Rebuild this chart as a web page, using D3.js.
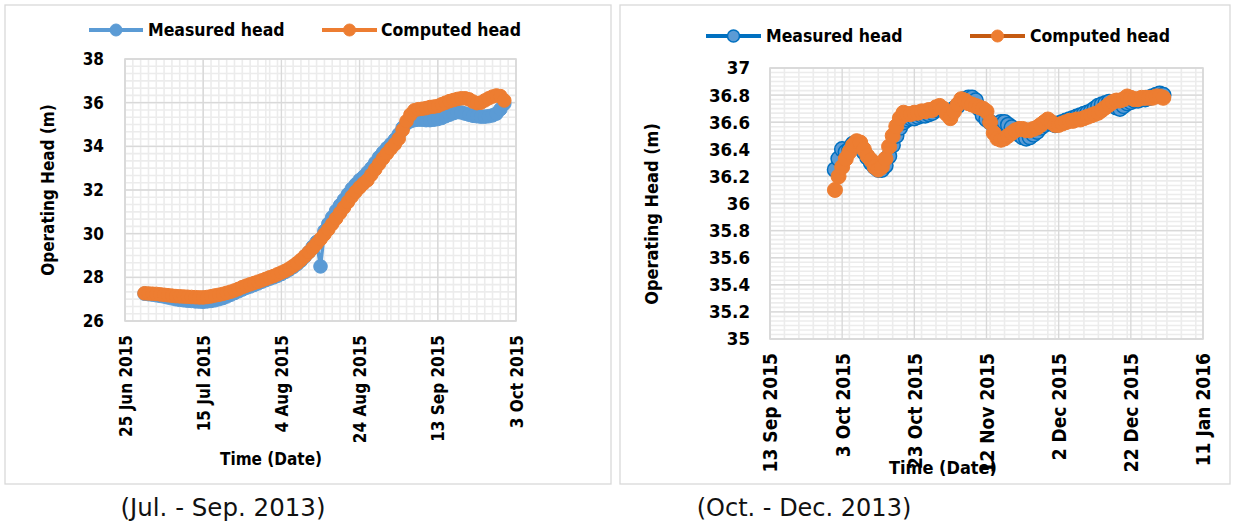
<!DOCTYPE html>
<html><head><meta charset="utf-8">
<script src="https://cdn.jsdelivr.net/npm/d3@7"></script>
<style>body{margin:0;background:#fff}svg{display:block}</style>
</head><body>
<svg id="c" width="1233" height="524"></svg>
<script>
// ---------- DATA ----------
const seriesNames = ["Measured head", "Computed head"];
const captions = ["(Jul. - Sep. 2013)", "(Oct. - Dec. 2013)"];
const axisTitles = ["Operating Head (m)", "Time (Date)"];

// Left chart: daily values starting 30 Jun 2015
const leftStart = "2015-06-30";
const leftMeasured = [
  27.25, 27.23, 27.21, 27.18, 27.15, 27.12, 27.08, 27.04, 27.0, 26.97, 26.95, 26.93, 26.92, 26.9, 26.89, 26.88,
  26.9, 26.92, 26.95, 27.0, 27.05, 27.12, 27.2,
  27.28, 27.36, 27.44, 27.52, 27.58, 27.65, 27.72,
  27.8, 27.87, 27.94, 28.0, 28.07, 28.15,
  28.25, 28.35, 28.47, 28.6, 28.76,
  28.95, 29.15, 29.4, 29.62, 28.5,
  30.12, 30.45, 30.75, 31.05, 31.3,
  31.55, 31.8, 32.05, 32.25, 32.45,
  32.6, 32.8, 33.0, 33.25, 33.5,
  33.72, 33.92, 34.1, 34.3, 34.55,
  34.85, 35.05, 35.15, 35.2, 35.22,
  35.22, 35.2, 35.2, 35.22, 35.25,
  35.3, 35.38, 35.45, 35.52, 35.57,
  35.55, 35.5, 35.45, 35.4, 35.38,
  35.36, 35.36, 35.38, 35.42, 35.5,
  35.7, 35.95
];
const leftComputed = [
  27.27, 27.26, 27.25, 27.24, 27.22, 27.2, 27.18, 27.16, 27.14, 27.13, 27.12, 27.11, 27.1, 27.09, 27.08, 27.08,
  27.1, 27.13, 27.17, 27.2, 27.24, 27.29, 27.34,
  27.4, 27.47, 27.55, 27.62, 27.68, 27.74, 27.8,
  27.86, 27.93, 28.0, 28.06, 28.14, 28.22,
  28.3, 28.4, 28.52, 28.65, 28.8,
  28.97, 29.15, 29.34, 29.54, 29.75,
  29.97, 30.2, 30.45, 30.7, 30.95,
  31.2, 31.45, 31.7, 31.92, 32.12,
  32.3, 32.45, 32.7, 32.95, 33.2,
  33.45, 33.68, 33.9, 34.1, 34.35,
  34.75, 35.15, 35.45, 35.65, 35.7,
  35.72, 35.75, 35.8, 35.82, 35.85,
  35.93, 36.0, 36.07, 36.12, 36.17,
  36.2, 36.2, 36.15, 36.05, 35.98,
  36.0, 36.1, 36.2, 36.28, 36.33,
  36.3, 36.1
];
const leftXTicks = ["2015-06-25", "2015-07-15", "2015-08-04", "2015-08-24", "2015-09-13", "2015-10-03"];
const leftYTicks = [26, 28, 30, 32, 34, 36, 38];

// Right chart: daily values starting 1 Oct 2015
const rightStart = "2015-10-01";
const rightMeasured = [
  36.25, 36.33, 36.4, 36.38, 36.4, 36.44, 36.45, 36.42, 36.38, 36.34,
  36.3, 36.27, 36.25, 36.25, 36.28, 36.35, 36.43, 36.5, 36.56, 36.6,
  36.62, 36.63, 36.63, 36.64, 36.65, 36.65, 36.66, 36.67, 36.69, 36.7,
  36.69, 36.68, 36.68, 36.7, 36.72, 36.75, 36.77, 36.78, 36.78, 36.76,
  36.7, 36.65, 36.62, 36.6, 36.58, 36.58, 36.6, 36.6, 36.58, 36.56,
  36.53, 36.51, 36.49, 36.48, 36.49, 36.51, 36.53, 36.56, 36.58, 36.6,
  36.59, 36.58, 36.59, 36.6, 36.61, 36.62, 36.63, 36.64, 36.65, 36.66,
  36.67, 36.68, 36.7, 36.72, 36.73, 36.74, 36.75, 36.74, 36.71, 36.7,
  36.72, 36.74, 36.75, 36.76, 36.76, 36.77, 36.77, 36.78, 36.79, 36.8,
  36.81, 36.8
];
const rightComputed = [
  36.10, 36.2, 36.27, 36.33, 36.38, 36.43, 36.46, 36.45, 36.4, 36.35,
  36.32, 36.27, 36.25, 36.27, 36.33, 36.42, 36.5, 36.57, 36.63, 36.67,
  36.66, 36.66, 36.67, 36.67, 36.68, 36.68, 36.69, 36.69, 36.71, 36.72,
  36.7, 36.66, 36.63, 36.68, 36.73, 36.77, 36.76, 36.74, 36.73, 36.72,
  36.71, 36.7, 36.68, 36.6, 36.52, 36.48, 36.47, 36.48, 36.5, 36.52,
  36.54, 36.55, 36.55, 36.54, 36.54, 36.55, 36.56, 36.58, 36.6, 36.62,
  36.6, 36.58, 36.58, 36.59, 36.6, 36.61, 36.61, 36.62, 36.62, 36.63,
  36.64, 36.65, 36.66, 36.67, 36.69, 36.71, 36.73, 36.75, 36.76, 36.76,
  36.77, 36.79, 36.78, 36.77, 36.77, 36.78, 36.78, 36.78, 36.78, 36.79,
  36.79, 36.78
];
const rightXTicks = ["2015-09-13", "2015-10-03", "2015-10-23", "2015-11-12", "2015-12-02", "2015-12-22", "2016-01-11"];
const rightYTicks = [35, 35.2, 35.4, 35.6, 35.8, 36, 36.2, 36.4, 36.6, 36.8, 37];

// ---------- DRAW ----------
const parse = d3.timeParse("%Y-%m-%d");
const fmt = d3.timeFormat("%-d %b %Y");
const svg = d3.select("#c");
const BOLD = "'DejaVu Sans Condensed','DejaVu Sans',sans-serif";

function toSeries(start, vals) {
  const s = parse(start);
  return vals.map((v, i) => ({ date: d3.timeDay.offset(s, i), v }));
}

function drawChart(cfg) {
  const g = svg.append("g");
  g.append("rect").attr("x", cfg.panel[0]).attr("y", cfg.panel[1])
    .attr("width", cfg.panel[2]).attr("height", cfg.panel[3])
    .attr("fill", "#fff").attr("stroke", "#d9d9d9").attr("stroke-width", 1.3);

  const xt = cfg.xTicks.map(parse);
  const x = d3.scaleTime().domain([xt[0], xt[xt.length - 1]]).range([cfg.L, cfg.R]);
  const y = d3.scaleLinear().domain([cfg.yTicks[0], cfg.yTicks[cfg.yTicks.length - 1]]).range([cfg.B, cfg.T]);

  // minor grid
  const minorX = d3.timeDay.every(cfg.minorDays).range(xt[0], xt[xt.length - 1]);
  const yStep = (cfg.yTicks[1] - cfg.yTicks[0]) / cfg.minorY;
  const minorY = d3.range(cfg.yTicks[0], cfg.yTicks[cfg.yTicks.length - 1] + 1e-9, yStep);
  g.append("g").selectAll("line").data(minorX).join("line")
    .attr("x1", d => x(d)).attr("x2", d => x(d)).attr("y1", cfg.T).attr("y2", cfg.B)
    .attr("stroke", "#ececec").attr("stroke-width", 1.6);
  g.append("g").selectAll("line").data(minorY).join("line")
    .attr("y1", d => y(d)).attr("y2", d => y(d)).attr("x1", cfg.L).attr("x2", cfg.R)
    .attr("stroke", "#ececec").attr("stroke-width", 1.6);
  // major grid
  g.append("g").selectAll("line").data(xt).join("line")
    .attr("x1", d => x(d)).attr("x2", d => x(d)).attr("y1", cfg.T).attr("y2", cfg.B)
    .attr("stroke", "#d9d9d9").attr("stroke-width", 1.4);
  g.append("g").selectAll("line").data(cfg.yTicks).join("line")
    .attr("y1", d => y(d)).attr("y2", d => y(d)).attr("x1", cfg.L).attr("x2", cfg.R)
    .attr("stroke", "#d9d9d9").attr("stroke-width", 1.4);
  g.append("rect").attr("x", cfg.L).attr("y", cfg.T).attr("width", cfg.R - cfg.L).attr("height", cfg.B - cfg.T)
    .attr("fill", "none").attr("stroke", "#d9d9d9").attr("stroke-width", 1.6);

  // axes
  const xa = g.append("g").attr("transform", `translate(0,${cfg.B})`)
    .call(d3.axisBottom(x).tickValues(xt).tickFormat(fmt).tickSize(0));
  xa.select(".domain").remove();
  xa.selectAll("text").attr("transform", "rotate(-90)").attr("x", -cfg.xLabOff).attr("y", 0)
    .attr("dy", "0.36em").attr("text-anchor", "end")
    .style("font-family", BOLD).style("font-weight", "bold").style("font-size", cfg.xFont + "px").attr("fill", "#000");

  const ya = g.append("g").attr("transform", `translate(${cfg.L},0)`)
    .call(d3.axisLeft(y).tickValues(cfg.yTicks).tickFormat(d3.format("~g")).tickSize(0).tickPadding(cfg.yPad));
  ya.select(".domain").remove();
  ya.selectAll("text").style("font-family", BOLD).style("font-weight", "bold")
    .style("font-size", cfg.yFont + "px").attr("fill", "#000");

  // titles
  g.append("text").attr("transform", `translate(${cfg.yTitle[0]},${cfg.yTitle[1]}) rotate(-90)`)
    .attr("text-anchor", "middle").attr("dy", "0.35em").text(axisTitles[0])
    .style("font-family", BOLD).style("font-weight", "bold").style("font-size", cfg.titleFont + "px");
  g.append("text").attr("x", cfg.xTitle[0]).attr("y", cfg.xTitle[1]).attr("dy", "0.35em")
    .attr("text-anchor", "middle").text(axisTitles[1])
    .style("font-family", BOLD).style("font-weight", "bold").style("font-size", cfg.titleFont + "px");

  // series
  const ser = [toSeries(cfg.start, cfg.measured), toSeries(cfg.start, cfg.computed)];
  const line = d3.line().x(d => x(d.date)).y(d => y(d.v));
  ser.forEach((s, i) => {
    const st = cfg.styles[i];
    g.append("path").datum(s).attr("d", line).attr("fill", "none")
      .attr("stroke", st.line).attr("stroke-width", 3.5).attr("stroke-linejoin", "round");
    g.append("g").selectAll("circle").data(s).join("circle")
      .attr("cx", d => x(d.date)).attr("cy", d => y(d.v)).attr("r", cfg.r)
      .attr("fill", st.fill).attr("stroke", st.stroke).attr("stroke-width", st.sw);
  });

  // legend
  cfg.legend.forEach((lg, i) => {
    const st = cfg.styles[i];
    g.append("line").attr("x1", lg[0]).attr("x2", lg[1]).attr("y1", cfg.legendY).attr("y2", cfg.legendY)
      .attr("stroke", st.line).attr("stroke-width", 4);
    g.append("circle").attr("cx", (lg[0] + lg[1]) / 2).attr("cy", cfg.legendY).attr("r", 6)
      .attr("fill", st.fill).attr("stroke", st.stroke).attr("stroke-width", st.sw);
    g.append("text").attr("x", lg[2]).attr("y", cfg.legendY).attr("dy", "0.35em").text(seriesNames[i])
      .style("font-family", BOLD).style("font-weight", "bold").style("font-size", cfg.legendFont + "px");
  });

  // caption
  g.append("text").attr("x", cfg.caption[0]).attr("y", cfg.caption[1]).attr("dy", "0.35em")
    .attr("text-anchor", "middle").text(cfg.captionText)
    .style("font-family", "'DejaVu Sans',sans-serif").style("font-size", cfg.captionFont + "px").attr("fill", "#111");
}

drawChart({
  panel: [5, 5, 606, 479],
  L: 125, R: 516, T: 59, B: 321,
  xTicks: leftXTicks, yTicks: leftYTicks, minorDays: 2, minorY: 6,
  xLabOff: 14, xFont: 17, yFont: 17, yPad: 21,
  yTitle: [48, 190], xTitle: [271, 459], titleFont: 17,
  start: leftStart, measured: leftMeasured, computed: leftComputed, r: 6.8,
  styles: [
    { line: "#5B9BD5", fill: "#5B9BD5", stroke: "#5B9BD5", sw: 1 },
    { line: "#ED7D31", fill: "#ED7D31", stroke: "#ED7D31", sw: 1 }
  ],
  legendY: 30, legendFont: 17.5,
  legend: [[89, 143, 148], [322, 377, 381]],
  caption: [223, 507], captionText: captions[0], captionFont: 24.5
});

drawChart({
  panel: [620, 5, 610, 479],
  L: 770, R: 1203, T: 68, B: 339,
  xTicks: rightXTicks, yTicks: rightYTicks, minorDays: 4, minorY: 6,
  xLabOff: 14, xFont: 19, yFont: 18.5, yPad: 20,
  yTitle: [652, 214], xTitle: [943, 468], titleFont: 18,
  start: rightStart, measured: rightMeasured, computed: rightComputed, r: 7.5,
  styles: [
    { line: "#0070C0", fill: "#5B9BD5", stroke: "#0070C0", sw: 1.5 },
    { line: "#C55A11", fill: "#ED7D31", stroke: "#ED7D31", sw: 1 }
  ],
  legendY: 36, legendFont: 17.5,
  legend: [[706, 761, 766], [970, 1025, 1030]],
  caption: [804, 508], captionText: captions[1], captionFont: 24
});
</script>
</body></html>
